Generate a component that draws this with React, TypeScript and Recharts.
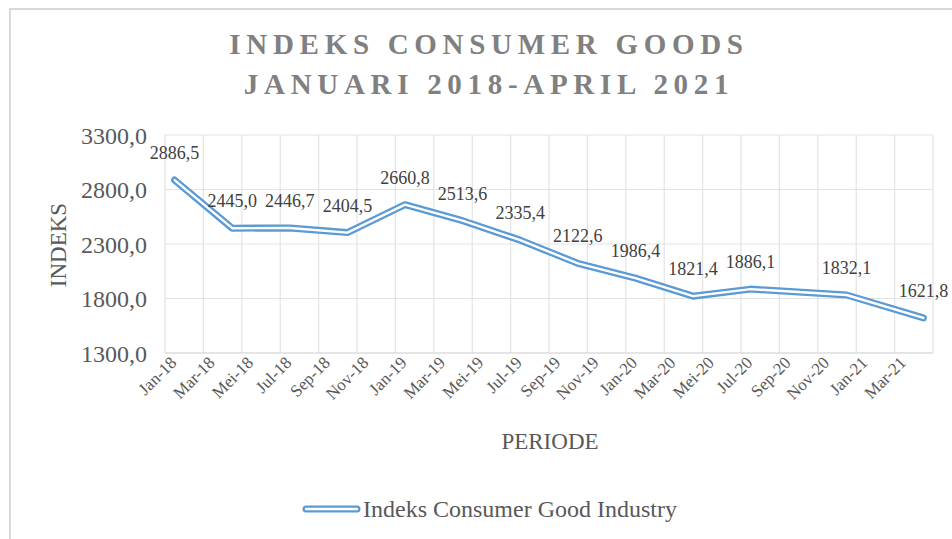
import { LineChart, Line, XAxis, YAxis, CartesianGrid, LabelList } from 'recharts';

// monthly categories, Jan-18 .. Apr-21 (Indonesian month names)
const months = [
  'Jan-18', 'Feb-18', 'Mar-18', 'Apr-18', 'Mei-18', 'Jun-18', 'Jul-18', 'Agu-18', 'Sep-18', 'Okt-18', 'Nov-18', 'Des-18',
  'Jan-19', 'Feb-19', 'Mar-19', 'Apr-19', 'Mei-19', 'Jun-19', 'Jul-19', 'Agu-19', 'Sep-19', 'Okt-19', 'Nov-19', 'Des-19',
  'Jan-20', 'Feb-20', 'Mar-20', 'Apr-20', 'Mei-20', 'Jun-20', 'Jul-20', 'Agu-20', 'Sep-20', 'Okt-20', 'Nov-20', 'Des-20',
  'Jan-21', 'Feb-21', 'Mar-21', 'Apr-21',
];

// index values, only the reported months have a number
const indeks: (number | null)[] = [
  2886.5, null, null, 2445.0, null, null, 2446.7, null, null, 2404.5, null, null,
  2660.8, null, null, 2513.6, null, null, 2335.4, null, null, 2122.6, null, null,
  1986.4, null, null, 1821.4, null, null, 1886.1, null, null, null, null, 1832.1,
  null, null, null, 1621.8,
];

const yTicks = [1300, 1800, 2300, 2800, 3300];

const BLUE = '#5B9BD5';
const FONT = '"Liberation Serif", "Times New Roman", serif';

const data = months.map((m, i) => ({ x: i + 0.5, month: m, value: indeks[i] }));
const labelTicks = months.map((_, i) => i).filter((i) => i % 2 === 0).map((i) => i + 0.5);
const gridTicks = [...months.map((_, i) => i).filter((i) => i % 2 === 0), months.length];

const fmt = (v: number) => v.toFixed(1).replace('.', ',');

const XTick = ({ x, y, payload }: any) => (
  <text
    x={x}
    y={y}
    dy={4}
    transform={`rotate(-45 ${x} ${y})`}
    textAnchor="end"
    fill="#595959"
    fontSize={17}
    fontFamily={FONT}
  >
    {months[Math.floor(payload.value)]}
  </text>
);

const ValueLabel = ({ x, y, value }: any) => {
  if (value == null || x == null || y == null) return null;
  return (
    <text x={x} y={y - 21} textAnchor="middle" fill="#404040" fontSize={18} fontFamily={FONT}>
      {fmt(Number(value))}
    </text>
  );
};

export default function App() {
  return (
    <div style={{ position: 'absolute', left: 0, top: 0, width: 952, height: 539, overflow: 'hidden', background: '#fff' }}>
      <div
        style={{
          position: 'absolute', left: 9, top: 8, width: 1000, height: 600,
          borderTop: '2px solid #d9d9d9', borderLeft: '2px solid #d9d9d9',
        }}
      />
      <div style={{ position: 'absolute', left: 0, top: 0 }}>
        <LineChart width={952} height={539} data={data} margin={{ top: 135, right: 19, bottom: 106, left: 105 }}>
          <XAxis xAxisId="grid" type="number" dataKey="x" domain={[0, months.length]} ticks={gridTicks} hide />
          <CartesianGrid xAxisId="grid" stroke="#e3e3e3" strokeWidth={1.2} />
          <XAxis
            type="number"
            dataKey="x"
            domain={[0, months.length]}
            ticks={labelTicks}
            interval={0}
            height={80}
            tickLine={false}
            axisLine={{ stroke: '#d9d9d9', strokeWidth: 1.2 }}
            tick={<XTick />}
          />
          <YAxis
            domain={[1300, 3300]}
            ticks={yTicks}
            width={60}
            axisLine={false}
            tickLine={false}
            tickMargin={12}
            tickFormatter={fmt}
            tick={{ fill: '#595959', fontSize: 24, fontFamily: FONT }}
          />
          <Line
            dataKey="value"
            connectNulls
            stroke={BLUE}
            strokeWidth={7}
            strokeLinejoin="round"
            strokeLinecap="round"
            dot={false}
            activeDot={false}
            isAnimationActive={false}
          />
          <Line
            dataKey="value"
            connectNulls
            stroke="#ffffff"
            strokeWidth={2.4}
            strokeLinejoin="round"
            strokeLinecap="round"
            dot={false}
            activeDot={false}
            isAnimationActive={false}
          >
            <LabelList dataKey="value" content={<ValueLabel />} />
          </Line>
        </LineChart>
      </div>
      <svg width={952} height={539} style={{ position: 'absolute', left: 0, top: 0, pointerEvents: 'none' }}>
        <g fontFamily={FONT} fontWeight="bold" fontSize={29} fill="#808080" textAnchor="middle" letterSpacing={5.7}>
          <text x={489} y={54}>INDEKS CONSUMER GOODS</text>
          <text x={489} y={94}>JANUARI 2018-APRIL 2021</text>
        </g>
        <text x={66} y={245} transform="rotate(-90 66 245)" textAnchor="middle" fontSize={23} fill="#595959" fontFamily={FONT}>
          INDEKS
        </text>
        <text x={550} y={449} textAnchor="middle" fontSize={23} fill="#595959" fontFamily={FONT}>
          PERIODE
        </text>
        <line x1={306} y1={509} x2={357} y2={509} stroke={BLUE} strokeWidth={7} strokeLinecap="round" />
        <line x1={306} y1={509} x2={357} y2={509} stroke="#fff" strokeWidth={2.4} strokeLinecap="round" />
        <text x={363} y={517} fontSize={24} fill="#595959" fontFamily={FONT}>
          Indeks Consumer Good Industry
        </text>
      </svg>
    </div>
  );
}
